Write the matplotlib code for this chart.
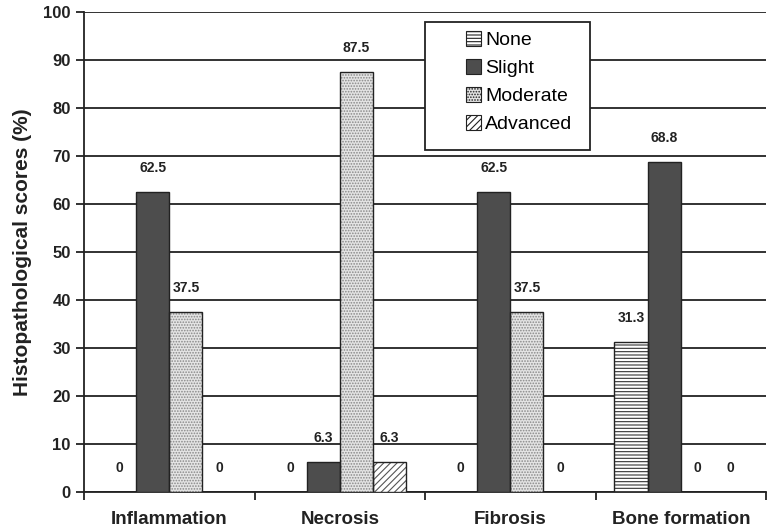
import numpy as np
import matplotlib
matplotlib.use("Agg")
import matplotlib.pyplot as plt
from matplotlib.patches import Rectangle

plt.rcParams['font.family'] = ['Liberation Sans', 'DejaVu Sans']
plt.rcParams['hatch.linewidth'] = 0.8

categories = ["Inflammation", "Necrosis", "Fibrosis", "Bone formation"]
none_vals = [0, 0, 0, 31.3]
slight_vals = [62.5, 6.3, 62.5, 68.8]
moderate_vals = [37.5, 87.5, 37.5, 0]
advanced_vals = [0, 6.3, 0, 0]

series = [
    ("None", none_vals, "white", "-----", "#333333"),
    ("Slight", slight_vals, "#4d4d4d", "", "#222222"),
    ("Moderate", moderate_vals, "#e4e4e4", "......", "#888888"),
    ("Advanced", advanced_vals, "white", "/////", "#555555"),
]

fig = plt.figure(figsize=(7.71, 5.29), dpi=100)
ax = fig.add_axes([84 / 771, 37 / 529, 682 / 771, 480 / 529])

x = np.arange(len(categories))
width = 0.195

for i, (name, vals, fc, hatch, hc) in enumerate(series):
    pos = x + (i - 1.5) * width
    ax.bar(pos, vals, width, color=fc, hatch=hatch, edgecolor=hc,
           linewidth=0, label=name, zorder=3)
    # outline drawn separately so hatch colour can differ
    ax.bar(pos, vals, width, fill=False, edgecolor="#222222", linewidth=1.0, zorder=4)
    for p, v in zip(pos, vals):
        lbl = "0" if v == 0 else f"{v:g}"
        ax.annotate(lbl, (p, v), xytext=(0, 12), textcoords="offset points",
                    ha="center", va="bottom", fontsize=10, fontweight="bold",
                    color="#222222")

ax.set_xlim(-0.5, 3.5)
ax.set_ylim(0, 100)
ax.set_yticks(np.arange(0, 101, 10))
ax.yaxis.grid(True, color="#222222", linewidth=1.3, zorder=0)
ax.set_axisbelow(True)

ax.set_xticks(x)
ax.set_xticklabels(categories, fontsize=13.5, fontweight="bold", color="#222222")
ax.set_xticks(np.arange(-0.5, 4, 1), minor=True)
ax.tick_params(axis="x", which="major", length=0, pad=14)
ax.tick_params(axis="x", which="minor", length=6, width=1.3, color="#222222")
ax.tick_params(axis="y", length=6, width=1.3, color="#222222", labelsize=12)
for t in ax.get_yticklabels():
    t.set_fontweight("bold")
    t.set_color("#222222")

ax.set_ylabel("Histopathological scores (%)", fontsize=15, fontweight="bold",
              color="#222222", labelpad=8)

for s in ["top", "right"]:
    ax.spines[s].set_visible(False)
for s in ["left", "bottom"]:
    ax.spines[s].set_linewidth(1.3)
    ax.spines[s].set_color("#222222")

# legend box drawn by hand (text is indented inside a wider frame)
ax.add_patch(Rectangle((0.5, 0.7125), 0.242, 0.267, transform=ax.transAxes,
                       facecolor="white", edgecolor="#222222", linewidth=1.3,
                       zorder=5, clip_on=False))
leg = ax.legend(loc="upper left", bbox_to_anchor=(0.56, 0.96), fontsize=14,
                frameon=False, handlelength=0.8, handleheight=0.8,
                handletextpad=0.2, labelspacing=0.5, borderpad=0,
                borderaxespad=0)
leg.set_zorder(6)
for h in leg.legend_handles:
    h.set_linewidth(0.8)
    h.set_edgecolor("#222222")

fig.savefig("out.png", dpi=100)
